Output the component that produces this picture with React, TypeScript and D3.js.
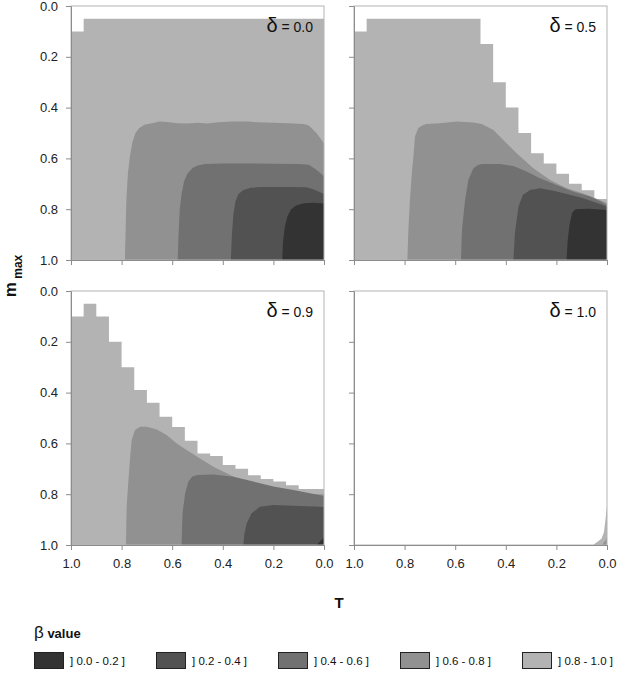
import React, { useEffect, useRef } from 'react';
import * as d3 from 'd3';

type Pt = [number, number]; // [T, m_max]

// T grid for the stepped outer boundary of the ]0.8 - 1.0] region
const tGrid = [1.0, 0.95, 0.9, 0.85, 0.8, 0.75, 0.7, 0.65, 0.6, 0.55, 0.5, 0.45, 0.4, 0.35, 0.3, 0.25, 0.2, 0.15, 0.1, 0.05, 0.0];

const tickValues = [0.0, 0.2, 0.4, 0.6, 0.8, 1.0];
const deltaLabels = ['0.0', '0.5', '0.9', '1.0'];
const legendLabels = ['] 0.0 - 0.2 ]', '] 0.2 - 0.4 ]', '] 0.4 - 0.6 ]', '] 0.6 - 0.8 ]', '] 0.8 - 1.0 ]'];
const bandColors = ['#333333', '#525252', '#717171', '#919191', '#b3b3b3'];

// delta = 0.0
const light00 = [0.1, 0.05, 0.05, 0.05, 0.05, 0.05, 0.05, 0.05, 0.05, 0.05, 0.05, 0.05, 0.05, 0.05, 0.05, 0.05, 0.05, 0.05, 0.05, 0.05];
const b68_00: Pt[] = [[0.787, 1.0], [0.784, 0.88], [0.781, 0.76], [0.775, 0.66], [0.767, 0.59], [0.757, 0.535], [0.745, 0.5], [0.73, 0.48], [0.71, 0.468], [0.68, 0.462], [0.65, 0.455], [0.62, 0.457], [0.58, 0.462], [0.54, 0.463], [0.5, 0.46], [0.46, 0.463], [0.42, 0.458], [0.36, 0.455], [0.3, 0.455], [0.26, 0.458], [0.2, 0.46], [0.14, 0.462], [0.08, 0.465], [0.06, 0.47], [0.03, 0.5], [0.0, 0.54]];
const b46_00: Pt[] = [[0.578, 1.0], [0.575, 0.9], [0.57, 0.8], [0.563, 0.74], [0.553, 0.69], [0.54, 0.66], [0.52, 0.638], [0.5, 0.628], [0.47, 0.622], [0.4, 0.62], [0.3, 0.62], [0.2, 0.621], [0.1, 0.622], [0.06, 0.625], [0.03, 0.645], [0.0, 0.67]];
const b24_00: Pt[] = [[0.368, 1.0], [0.364, 0.9], [0.358, 0.82], [0.35, 0.77], [0.338, 0.74], [0.32, 0.725], [0.29, 0.716], [0.25, 0.713], [0.15, 0.713], [0.07, 0.714], [0.04, 0.722], [0.0, 0.74]];
const b02_00: Pt[] = [[0.165, 1.0], [0.162, 0.93], [0.155, 0.87], [0.145, 0.83], [0.13, 0.8], [0.11, 0.785], [0.08, 0.777], [0.04, 0.775], [0.0, 0.778]];

// delta = 0.5
const light05 = [0.1, 0.05, 0.05, 0.05, 0.05, 0.05, 0.05, 0.05, 0.05, 0.05, 0.15, 0.3, 0.4, 0.5, 0.58, 0.62, 0.66, 0.7, 0.725, 0.76];
const b68_05: Pt[] = [[0.789, 1.0], [0.785, 0.88], [0.779, 0.764], [0.77, 0.64], [0.765, 0.593], [0.759, 0.514], [0.746, 0.48], [0.73, 0.47], [0.713, 0.465], [0.66, 0.462], [0.594, 0.455], [0.528, 0.459], [0.495, 0.465], [0.449, 0.488], [0.41, 0.528], [0.357, 0.58], [0.291, 0.639], [0.225, 0.685], [0.159, 0.718], [0.094, 0.738], [0.028, 0.764], [0.0, 0.777]];
const b46_05: Pt[] = [[0.577, 1.0], [0.574, 0.9], [0.572, 0.869], [0.561, 0.764], [0.548, 0.685], [0.528, 0.639], [0.51, 0.626], [0.495, 0.622], [0.423, 0.622], [0.37, 0.63], [0.318, 0.652], [0.265, 0.678], [0.2, 0.705], [0.133, 0.731], [0.067, 0.75], [0.03, 0.768], [0.0, 0.783]];
const b24_05: Pt[] = [[0.37, 1.0], [0.367, 0.95], [0.364, 0.895], [0.35, 0.79], [0.333, 0.744], [0.304, 0.724], [0.265, 0.718], [0.212, 0.727], [0.159, 0.74], [0.094, 0.757], [0.028, 0.78], [0.0, 0.79]];
const b02_05: Pt[] = [[0.16, 1.0], [0.155, 0.92], [0.148, 0.86], [0.138, 0.815], [0.125, 0.8], [0.07, 0.798], [0.0, 0.803]];

// delta = 0.9
const light09 = [0.1, 0.05, 0.1, 0.2, 0.3, 0.39, 0.44, 0.495, 0.535, 0.59, 0.64, 0.65, 0.685, 0.7, 0.725, 0.74, 0.75, 0.765, 0.78, 0.78];
const b68_09: Pt[] = [[0.783, 1.0], [0.78, 0.849], [0.773, 0.744], [0.765, 0.64], [0.76, 0.587], [0.747, 0.547], [0.727, 0.534], [0.7, 0.534], [0.661, 0.545], [0.622, 0.567], [0.582, 0.6], [0.543, 0.626], [0.49, 0.659], [0.437, 0.692], [0.385, 0.718], [0.332, 0.744], [0.279, 0.764], [0.227, 0.78], [0.161, 0.793], [0.095, 0.8], [0.016, 0.8], [0.0, 0.8]];
const b46_09: Pt[] = [[0.563, 1.0], [0.561, 0.93], [0.559, 0.875], [0.549, 0.797], [0.536, 0.75], [0.52, 0.73], [0.5, 0.724], [0.437, 0.722], [0.358, 0.731], [0.279, 0.75], [0.2, 0.77], [0.121, 0.783], [0.05, 0.797], [0.0, 0.807]];
const b24_09: Pt[] = [[0.319, 1.0], [0.315, 0.96], [0.306, 0.915], [0.286, 0.875], [0.253, 0.849], [0.2, 0.843], [0.121, 0.845], [0.016, 0.849], [0.0, 0.85]];
const b02_09: Pt[] = [[0.03, 1.0], [0.0, 0.97]];

// delta = 1.0
const light10: Pt[] = [[0.055, 1.0], [0.035, 0.985], [0.022, 0.975], [0.012, 0.95], [0.006, 0.9], [0.0, 0.845]];
const b68_10: Pt[] = [[0.02, 1.0], [0.008, 0.985], [0.0, 0.97]];

const App = () => {
    const svgRef = useRef<SVGSVGElement>(null);

    useEffect(() => {
        const svg = d3.select(svgRef.current);
        svg.selectAll('*').remove();

        const font = "'Liberation Sans', Arial, sans-serif";
        const panelW = 253;
        const panelH = 254;
        const cols = [71, 354];
        const rows = [6, 291];

        const x = d3.scaleLinear().domain([1, 0]).range([0, panelW]);
        const y = d3.scaleLinear().domain([0, 1]).range([0, panelH]);

        const area = d3.area<Pt>()
            .x(d => x(d[0]))
            .y0(y(1))
            .y1(d => y(d[1]));
        const stepArea = d3.area<Pt>()
            .curve(d3.curveStepAfter)
            .x(d => x(d[0]))
            .y0(y(1))
            .y1(d => y(d[1]));

        const steps = (vals: number[]): Pt[] => {
            const pts: Pt[] = vals.map((v, i) => [tGrid[i], v]);
            pts.push([tGrid[tGrid.length - 1], vals[vals.length - 1]]);
            return pts;
        };

        // light region first, darker ones on top
        const panels = [
            { light: steps(light00), stepped: true, bands: [b68_00, b46_00, b24_00, b02_00] },
            { light: steps(light05), stepped: true, bands: [b68_05, b46_05, b24_05, b02_05] },
            { light: steps(light09), stepped: true, bands: [b68_09, b46_09, b24_09, b02_09] },
            { light: light10, stepped: false, bands: [b68_10] },
        ];

        const defs = svg.append('defs');

        panels.forEach((p, i) => {
            const col = i % 2;
            const row = Math.floor(i / 2);
            const g = svg.append('g')
                .attr('transform', `translate(${cols[col]}, ${rows[row]})`);

            defs.append('clipPath')
                .attr('id', `clip${i}`)
                .append('rect')
                .attr('width', panelW)
                .attr('height', panelH);

            const plot = g.append('g').attr('clip-path', `url(#clip${i})`);

            plot.append('path')
                .attr('d', (p.stepped ? stepArea : area)(p.light))
                .attr('fill', bandColors[4]);

            p.bands.forEach((b, j) => {
                plot.append('path')
                    .attr('d', area(b))
                    .attr('fill', bandColors[3 - j]);
            });

            g.append('rect')
                .attr('width', panelW)
                .attr('height', panelH)
                .attr('fill', 'none')
                .attr('stroke', '#b4b4b4');

            const yAxis = d3.axisLeft(y)
                .tickValues(tickValues)
                .tickSize(5)
                .tickSizeOuter(0)
                .tickPadding(8)
                .tickFormat(col === 0 ? d3.format('.1f') : () => '');
            const xAxis = d3.axisBottom(x)
                .tickValues(tickValues)
                .tickSize(5)
                .tickSizeOuter(0)
                .tickPadding(9)
                .tickFormat(row === 1 ? d3.format('.1f') : () => '');

            const ya = g.append('g').call(yAxis);
            const xa = g.append('g').attr('transform', `translate(0, ${panelH})`).call(xAxis);

            [ya, xa].forEach(a => {
                a.select('.domain').attr('stroke', '#8c8c8c');
                a.selectAll('.tick line').attr('stroke', '#8c8c8c');
                a.selectAll('.tick text')
                    .attr('fill', '#222')
                    .style('font-family', font)
                    .style('font-size', '13px');
            });

            const lab = g.append('text')
                .attr('x', panelW - 11)
                .attr('y', 26)
                .attr('text-anchor', 'end')
                .style('font-family', font)
                .attr('fill', '#111');
            lab.append('tspan').style('font-size', '20px').text('δ');
            lab.append('tspan').style('font-size', '14px').text(` = ${deltaLabels[i]}`);
        });

        // axis titles
        const yt = svg.append('text')
            .attr('transform', 'translate(16, 276) rotate(-90)')
            .attr('text-anchor', 'middle')
            .style('font-family', font)
            .style('font-weight', 'bold')
            .attr('fill', '#111');
        yt.append('tspan').style('font-size', '17px').text('m');
        yt.append('tspan').style('font-size', '12px').attr('dy', 6).text(' max');

        svg.append('text')
            .attr('x', 339)
            .attr('y', 608)
            .attr('text-anchor', 'middle')
            .style('font-family', font)
            .style('font-weight', 'bold')
            .style('font-size', '15px')
            .attr('fill', '#111')
            .text('T');

        // legend
        const lt = svg.append('text')
            .attr('x', 34)
            .attr('y', 638)
            .style('font-family', font)
            .attr('fill', '#111');
        lt.append('tspan').style('font-size', '17px').text('β');
        lt.append('tspan').style('font-size', '13px').style('font-weight', 'bold').text(' value');

        const legend = svg.append('g').attr('transform', 'translate(34, 652)');
        const items = legend.selectAll('.legend')
            .data(legendLabels)
            .enter()
            .append('g')
            .attr('class', 'legend')
            .attr('transform', (_, i) => `translate(${i * 122}, 0)`);

        items.append('rect')
            .attr('x', 0.5)
            .attr('y', 0.5)
            .attr('width', 29)
            .attr('height', 16)
            .attr('fill', (_, i) => bandColors[i])
            .attr('stroke', '#222');

        items.append('text')
            .attr('x', 36)
            .attr('y', 12.5)
            .style('font-family', font)
            .style('font-size', '11.5px')
            .attr('fill', '#111')
            .text(d => d);
    }, []);

    return (
        <div style={{ position: 'absolute', left: 0, top: 0 }}>
            <svg ref={svgRef} width={625} height={684} style={{ display: 'block', background: '#fff' }}></svg>
        </div>
    );
};

export default App;
